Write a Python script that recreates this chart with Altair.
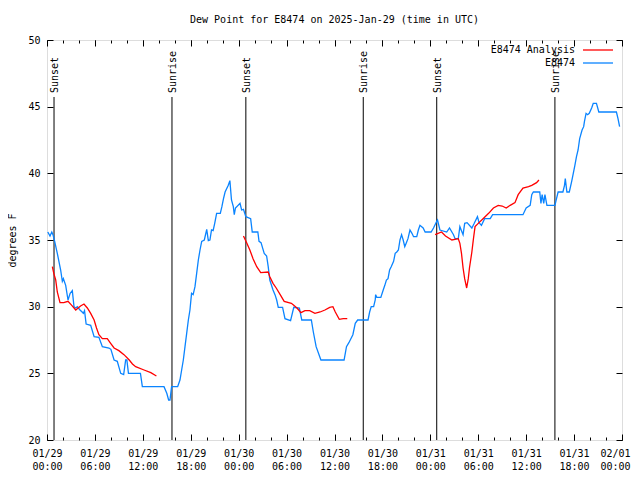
import json
import altair as alt
import pandas as pd

# ---------------- data ----------------
obs_hours = [0.1, 0.375, 0.6, 0.75, 0.96, 1.29, 1.71, 1.92, 2.05, 2.34, 2.63, 2.9, 3.17, 3.38, 3.6, 3.8,
             4.13, 4.4, 4.55, 4.7, 4.9, 5.47, 5.9, 6.5, 6.93, 7.76, 8.0, 8.4, 8.8, 9.23, 9.6, 9.85, 10.0,
             10.2, 11.7, 11.94, 14.65, 15.0, 15.23, 15.4, 15.6, 16.36, 16.65, 16.86, 17.07, 17.28, 17.49,
             17.7, 17.9, 18.1, 18.3, 18.53, 18.74, 18.95, 19.16, 19.37, 19.7, 20.0, 20.2, 20.4, 20.6, 20.8,
             21.0, 21.24, 21.7, 21.9, 22.1, 22.3, 22.7, 22.9, 23.1, 23.33, 23.45, 23.6, 24.17, 24.37, 24.6,
             24.9, 25.5, 25.7, 26.4, 26.55, 26.8, 27.2, 27.5, 27.7, 27.9, 28.3, 28.55, 28.76, 28.96, 29.5,
             29.8, 30.5, 30.9, 31.6, 31.9, 33.1, 33.35, 33.7, 34.3, 37.2, 37.5, 37.8, 38.3, 38.6, 38.9, 40.2,
             40.4, 40.6, 40.9, 41.1, 41.15, 41.3, 41.8, 42.1, 42.3, 42.5, 42.7, 42.9, 43.1, 43.4, 43.6, 43.8,
             44.0, 44.2, 44.4, 44.6, 44.8, 45.0, 45.2, 45.45, 45.7, 45.9, 46.3, 46.5, 46.7, 47.1, 47.35, 48.1,
             48.4, 48.8, 48.9, 49.2, 50.05, 50.4, 50.9, 51.1, 51.5, 51.7, 51.9, 52.1, 52.3, 52.6, 53.2, 53.5,
             53.9, 54.1, 54.4, 54.8, 55.5, 55.8, 59.6, 60.0, 60.5, 60.7, 60.9, 61.7, 61.85, 62.0, 62.2, 62.35,
             62.6, 63.6, 63.8, 64.0, 64.6, 64.8, 64.9, 65.1, 65.4, 65.7, 65.9, 66.1, 66.3, 66.5, 66.7, 67.0,
             67.2, 67.3, 67.5, 67.7, 67.9, 68.2, 68.4, 68.8, 69.1, 71.3, 71.5, 71.7]
obs_values = [35.6, 35.3, 35.6, 35.4, 34.9, 34.0, 32.75, 31.9, 32.1, 31.6, 30.5, 31.0, 31.2, 30.0, 29.9, 30.0,
              29.75, 29.6, 29.5, 29.7, 28.7, 28.6, 27.75, 27.7, 27.0, 26.9, 26.8, 26.0, 25.9, 25.0, 24.9, 26.0, 26.0,
              25.0, 25.0, 24.0, 24.0, 23.5, 23.0, 23.0, 24.0, 24.0, 24.5, 25.25, 26.0, 27.0, 28.0,
              29.0, 29.75, 31.0, 30.9, 31.5, 32.5, 33.5, 34.25, 34.9, 35.0, 35.8, 34.95, 35.0, 35.75, 35.7,
              36.25, 37.0, 37.0, 37.5, 38.1, 38.6, 39.1, 39.45, 38.0, 37.5, 36.9, 37.4, 37.75, 37.25, 37.3,
              36.75, 36.6, 35.6, 35.6, 34.9, 34.8, 34.0, 33.8, 33.0, 32.0, 31.25, 30.9, 30.5, 29.95, 29.95,
              29.1, 28.95, 29.95, 29.9, 29.0, 29.0, 28.1, 27.0, 26.0, 26.0, 27.0, 27.3, 27.9, 28.75, 29.0, 29.0,
              29.6, 30.0, 30.0, 30.5, 30.9, 30.7, 30.7, 31.25, 31.6, 32.0, 32.1, 32.75, 33.0, 33.4, 34.0, 34.1,
              34.25, 35.0, 35.4, 35.0, 34.5, 34.8, 35.1, 35.75, 35.5, 35.25, 35.25, 35.75, 36.1, 35.9, 35.6, 35.6,
              35.9, 36.4, 36.5, 35.75, 35.6, 35.9, 35.4, 35.1, 35.1, 36.0, 35.7, 35.4, 36.25, 36.3, 35.9, 36.25,
              36.75, 36.3, 36.1, 36.6, 36.6, 36.9, 36.9, 37.4, 37.6, 38.4, 38.6, 38.6, 37.75, 38.4, 37.75, 38.4,
              37.6, 37.6, 38.1, 38.6, 38.6, 39.1, 39.6, 38.6, 38.6, 39.4, 40.0, 40.6, 41.25, 41.75, 42.6, 43.25,
              43.5, 43.9, 44.5, 44.4, 44.5, 44.9, 45.25, 45.25, 44.6, 44.6, 44.1, 43.5]

ana_hours = [0.67, 0.85, 1.09, 1.29, 1.63, 2.1, 2.63, 3.1, 3.6, 3.9, 4.2, 4.63, 5.05, 5.47, 5.9, 6.2, 6.5,
             6.93, 7.55, 7.97, 8.4, 9.0, 9.64, 10.3, 10.7, 11.1, 12.15, 13.0, 13.7,
             24.6, 25.0, 25.4, 25.8, 26.26, 26.76, 27.7, 27.9, 28.3, 28.7, 29.2, 29.7, 30.6, 30.9, 31.3,
             31.8, 32.3, 32.9, 33.55, 34.2, 34.8, 35.4, 35.8, 36.1, 36.6, 37.1, 37.6,
             48.6, 49.4, 49.9, 50.7, 51.5, 51.7, 51.9, 52.1, 52.3, 52.55, 52.75, 52.9, 53.2, 53.4, 53.6,
             54.0, 54.6, 55.3, 55.9, 56.5, 57.0, 57.5, 58.0, 58.6, 59.0, 59.6, 60.3, 60.7, 61.3, 61.6]
ana_values = [33.0, 32.5, 32.0, 31.1, 30.3, 30.3, 30.4, 30.1, 29.75, 29.9, 30.05, 30.2, 29.9, 29.5, 29.0, 28.4, 27.9,
              27.6, 27.6, 27.25, 26.9, 26.7, 26.4, 26.0, 25.7, 25.5, 25.25, 25.05, 24.8,
              35.3, 34.8, 34.25, 33.6, 33.0, 32.55, 32.6, 32.25, 31.75, 31.4, 30.9, 30.4, 30.25, 30.1, 29.9,
              29.55, 29.7, 29.7, 29.5, 29.6, 29.75, 29.95, 30.0, 29.6, 29.05, 29.1, 29.1,
              35.4, 35.6, 35.3, 35.0, 35.1, 34.75, 34.0, 32.9, 32.1, 31.4, 32.1, 32.9, 34.1, 35.1, 36.0,
              36.25, 36.6, 37.0, 37.4, 37.6, 37.55, 37.4, 37.6, 37.8, 38.4, 38.9, 39.0, 39.1, 39.3, 39.5]
ana_segment = [1] * 29 + [2] * 27 + [3] * 30

event_hours = [0.88, 15.65, 24.9, 39.6, 48.8, 63.6]
event_labels = ["Sunset", "Sunrise", "Sunset", "Sunrise", "Sunset", "Sunrise"]

major_ticks = list(range(0, 73, 6))
minor_ticks = list(range(0, 73, 2))
tick_dates = ["01/29", "01/29", "01/29", "01/29", "01/30", "01/30", "01/30", "01/30",
              "01/31", "01/31", "01/31", "01/31", "02/01"]
tick_times = ["00:00", "06:00", "12:00", "18:00"] * 3 + ["00:00"]
y_ticks = [20, 25, 30, 35, 40, 45, 50]

series_names = ["E8474 Analysis", "E8474"]
series_colors = ["#ff0000", "#0a84ff"]

title_text = "Dew Point for E8474 on 2025-Jan-29 (time in UTC)"
y_title = "degrees F"

# ---------------- frames ----------------
obs = pd.DataFrame({"h": obs_hours, "v": obs_values})
ana = pd.DataFrame({"h": ana_hours, "v": ana_values, "seg": ana_segment})
events = pd.DataFrame({"h": event_hours, "label": event_labels})

FONT = "DejaVu Sans Mono"
FS = 10
W, H = 575, 400
MAJ, MIN = 6, 3

xscale = alt.Scale(domain=[0, 72], nice=False, zero=False)
yscale = alt.Scale(domain=[20, 50], nice=False, zero=False)

label_expr = ("[" + json.dumps(tick_dates) + "[round(datum.value/6)], "
              + json.dumps(tick_times) + "[round(datum.value/6)]]")

common = dict(domain=False, grid=False, tickColor="black", tickWidth=1,
              labelFont=FONT, labelFontSize=FS, labelColor="black",
              titleFont=FONT, titleFontSize=FS, titleColor="black", titleFontWeight="normal")


def axis_layer(xaxis, yaxis):
    return alt.Chart(obs).mark_point(opacity=0).encode(
        x=alt.X("h:Q", scale=xscale, axis=xaxis),
        y=alt.Y("v:Q", scale=yscale, axis=yaxis),
    )


ax_main = axis_layer(
    alt.Axis(values=major_ticks, orient="bottom", offset=-MAJ, tickSize=MAJ, labelPadding=8,
             labelExpr=label_expr, labelLineHeight=13, labelBaseline="top", title=None,
             labelOffset={"expr": "datum.value >= 72 ? -7 : 0"},
             labelOverlap=False, labelFlush=False, **common),
    alt.Axis(values=y_ticks, orient="left", offset=-MAJ, tickSize=MAJ, labelPadding=7,
             title=y_title, titlePadding=10, labelOverlap=False, **common),
)
ax_mirror = axis_layer(
    alt.Axis(values=major_ticks, orient="top", offset=-MAJ, tickSize=MAJ, labels=False, title=None, **common),
    alt.Axis(values=y_ticks, orient="right", offset=-MAJ, tickSize=MAJ, labels=False, title=None, **common),
)
ax_minor_b = axis_layer(
    alt.Axis(values=minor_ticks, orient="bottom", offset=-MIN, tickSize=MIN, labels=False, title=None, **common),
    None,
)
ax_minor_t = axis_layer(
    alt.Axis(values=minor_ticks, orient="top", offset=-MIN, tickSize=MIN, labels=False, title=None, **common),
    None,
)

ev_rules = alt.Chart(events).mark_rule(color="black", strokeWidth=1).encode(
    x=alt.X("h:Q", scale=xscale, axis=None),
    y=alt.value(H),
    y2=alt.value(57),
)
ev_text = alt.Chart(events).mark_text(angle=270, align="left", baseline="middle", font=FONT,
                                       fontSize=FS, color="black", dy=1).encode(
    x=alt.X("h:Q", scale=xscale, axis=None),
    y=alt.value(53),
    text="label:N",
)

obs_line = alt.Chart(obs).mark_line(color=series_colors[1], strokeWidth=1.3).encode(
    x=alt.X("h:Q", scale=xscale, axis=None),
    y=alt.Y("v:Q", scale=yscale, axis=None),
)
ana_line = alt.Chart(ana).mark_line(color=series_colors[0], strokeWidth=1.3).encode(
    x=alt.X("h:Q", scale=xscale, axis=None),
    y=alt.Y("v:Q", scale=yscale, axis=None),
    detail="seg:N",
)

leg_layers = []
for i, (name, col) in enumerate(zip(series_names, series_colors)):
    d = pd.DataFrame({"label": [name]})
    yy = 10 + 13 * i
    leg_layers.append(alt.Chart(d).mark_text(align="right", baseline="middle", font=FONT, fontSize=FS,
                                             color="black").encode(
        x=alt.value(528), y=alt.value(yy), text="label:N"))
    leg_layers.append(alt.Chart(d).mark_rule(color=col, strokeWidth=1.3).encode(
        x=alt.value(536), x2=alt.value(566), y=alt.value(yy)))

chart = alt.layer(
    ax_main, ax_mirror, ax_minor_b, ax_minor_t,
    ev_rules, ev_text, obs_line, ana_line, *leg_layers
).resolve_axis(x="independent", y="independent").properties(
    width=W, height=H,
    autosize=alt.AutoSizeParams(type="none"),
    padding={"left": 39, "top": 32, "right": 10, "bottom": 32},
    title=alt.TitleParams(title_text, font=FONT, fontSize=FS, fontWeight="normal", color="black",
                          anchor="middle", offset=10),
).configure_view(stroke="black", strokeWidth=1).configure(background="white")

chart.save("out.html", embed_options={"renderer": "svg", "actions": False})
